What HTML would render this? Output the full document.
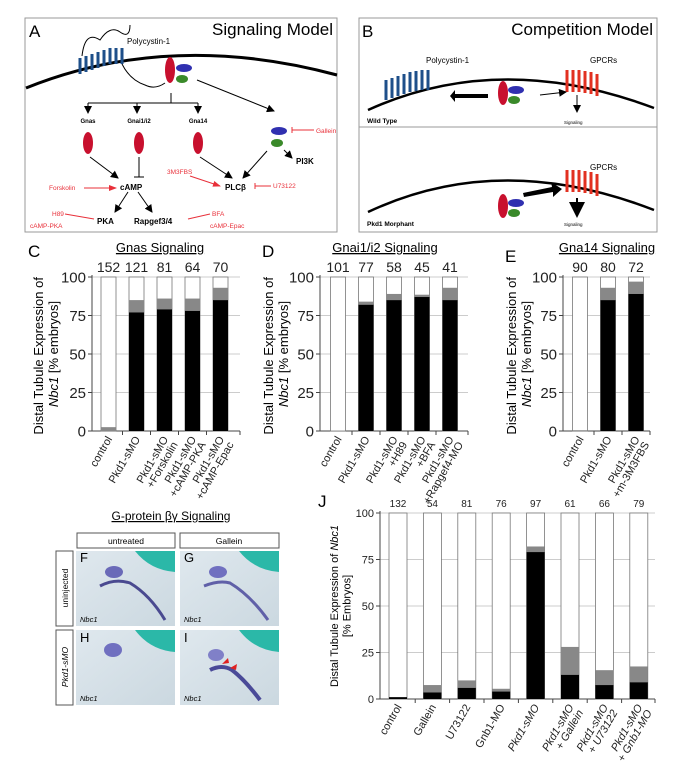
<!DOCTYPE html>
<html><head><meta charset="utf-8"><style>
body{margin:0;background:#fff;}
svg{display:block;font-family:"Liberation Sans",Arial,sans-serif;}
</style></head><body>
<svg id="fig" width="679" height="768" viewBox="0 0 679 768" xmlns="http://www.w3.org/2000/svg">
<defs>
<marker id="ah" markerWidth="8" markerHeight="8" refX="7" refY="4" orient="auto"><path d="M0,0 L8,4 L0,8 z" fill="#000"/></marker>
<marker id="ahr" markerWidth="8" markerHeight="8" refX="7" refY="4" orient="auto"><path d="M0,1 L8,4 L0,7 z" fill="#e8303a"/></marker>
<linearGradient id="emb" x1="0" y1="0" x2="1" y2="1"><stop offset="0" stop-color="#dfe8ee"/><stop offset="1" stop-color="#cbd8e0"/></linearGradient>
</defs>

<!-- Panel A -->
<g>
<rect x="25" y="18" width="312" height="214" fill="#fff" stroke="#999" stroke-width="1"/>
<text x="29" y="37" font-size="17">A</text>
<text x="333" y="35" font-size="17" text-anchor="end">Signaling Model</text>
<path d="M26,88 Q170,30 337,75" fill="none" stroke="#000" stroke-width="3"/>
<g fill="none" stroke="#1e4f8a" stroke-width="3">
<path d="M80,58 v16 M86,56 v16 M92,54 v16 M98,52 v16 M104,50 v16 M110,48 v16 M116,48 v16 M122,48 v16"/>
</g>
<path d="M82,56 Q85,30 100,40 Q110,25 120,32 T130,25" fill="none" stroke="#000" stroke-width="1"/>
<path d="M122,64 Q130,80 145,85 Q155,90 165,83" fill="none" stroke="#000" stroke-width="1"/>
<text x="127" y="44" font-size="8">Polycystin-1</text>
<ellipse cx="170" cy="70" rx="5" ry="13" fill="#c8102e"/>
<ellipse cx="184" cy="68" rx="8" ry="4" fill="#3030b0"/>
<ellipse cx="182" cy="79" rx="6" ry="4" fill="#3a8a2a"/>
<line x1="171" y1="93" x2="171" y2="103" stroke="#000"/>
<line x1="88" y1="103" x2="198" y2="103" stroke="#000"/>
<g stroke="#000" marker-end="url(#ah)"><line x1="88" y1="103" x2="88" y2="113"/><line x1="137" y1="103" x2="137" y2="113"/><line x1="198" y1="103" x2="198" y2="113"/><line x1="197" y1="80" x2="274" y2="111"/></g>
<g font-size="6" font-weight="bold" text-anchor="middle"><text x="88" y="123">Gnas</text><text x="139" y="123">Gnai1/i2</text><text x="198" y="123">Gna14</text></g>
<g fill="#c8102e"><ellipse cx="88" cy="143" rx="5" ry="11"/><ellipse cx="139" cy="143" rx="5" ry="11"/><ellipse cx="198" cy="143" rx="5" ry="11"/></g>
<ellipse cx="279" cy="131" rx="8" ry="4" fill="#3030b0"/><ellipse cx="277" cy="143" rx="6" ry="4" fill="#3a8a2a"/>
<g stroke="#000" marker-end="url(#ah)"><line x1="90" y1="157" x2="118" y2="178"/><line x1="200" y1="157" x2="232" y2="178"/><line x1="267" y1="151" x2="243" y2="178"/><line x1="284" y1="150" x2="292" y2="158"/><line x1="128" y1="192" x2="115" y2="212"/><line x1="138" y1="192" x2="152" y2="212"/></g>
<line x1="139" y1="157" x2="139" y2="177" stroke="#000"/><line x1="134" y1="177" x2="144" y2="177" stroke="#000"/>
<g font-size="8" font-weight="bold"><text x="120" y="190">cAMP</text><text x="225" y="190">PLCβ</text><text x="296" y="164">PI3K</text><text x="97" y="224">PKA</text><text x="134" y="224">Rapgef3/4</text></g>
<g font-size="6.5" fill="#e8303a"><text x="49" y="190">Forskolin</text><text x="167" y="174">3M3FBS</text><text x="273" y="188">U73122</text><text x="316" y="133">Gallein</text><text x="52" y="216">H89</text><text x="212" y="216">BFA</text><text x="30" y="228">cAMP-PKA</text><text x="210" y="228">cAMP-Epac</text></g>
<g stroke="#e8303a" fill="none"><line x1="84" y1="188" x2="116" y2="188" marker-end="url(#ahr)"/><line x1="190" y1="176" x2="220" y2="186" marker-end="url(#ahr)"/><line x1="255" y1="186" x2="271" y2="186"/><line x1="255" y1="183" x2="255" y2="189"/><line x1="292" y1="130" x2="314" y2="130"/><line x1="292" y1="127" x2="292" y2="133"/><line x1="65" y1="214" x2="94" y2="219"/><line x1="188" y1="219" x2="210" y2="214"/></g>
</g>

<!-- Panel B -->
<g>
<rect x="359" y="18" width="298" height="214" fill="#fff" stroke="#999"/>
<line x1="359" y1="127" x2="657" y2="127" stroke="#999"/>
<text x="362" y="37" font-size="17">B</text>
<text x="653" y="35" font-size="17" text-anchor="end">Competition Model</text>
<path d="M368,110 Q500,50 654,108" fill="none" stroke="#000" stroke-width="2.5"/>
<path d="M368,212 Q500,150 654,210" fill="none" stroke="#000" stroke-width="2.5"/>
<g stroke="#1e4f8a" stroke-width="3"><path d="M386,80 v20 M392,78 v20 M398,76 v20 M404,74 v20 M410,72 v20 M416,71 v20 M422,70 v20 M428,70 v20"/></g>
<g stroke="#e23020" stroke-width="3"><path d="M567,70 v22 M573,70 v22 M579,70 v22 M585,71 v22 M591,72 v22 M597,74 v22"/><path d="M567,170 v22 M573,170 v22 M579,170 v22 M585,171 v22 M591,172 v22 M597,174 v22"/></g>
<text x="426" y="63" font-size="8">Polycystin-1</text>
<text x="590" y="63" font-size="8">GPCRs</text>
<text x="590" y="170" font-size="8">GPCRs</text>
<text x="367" y="123" font-size="6.5" font-weight="bold">Wild Type</text>
<text x="367" y="226" font-size="6.5" font-weight="bold">Pkd1 Morphant</text>
<text x="564" y="124" font-size="4.5">Signaling</text>
<text x="564" y="226" font-size="4.5">Signaling</text>
<ellipse cx="503" cy="93" rx="5" ry="12" fill="#c8102e"/><ellipse cx="516" cy="90" rx="8" ry="4" fill="#3030b0"/><ellipse cx="514" cy="100" rx="6" ry="4" fill="#3a8a2a"/>
<ellipse cx="503" cy="206" rx="5" ry="12" fill="#c8102e"/><ellipse cx="516" cy="203" rx="8" ry="4" fill="#3030b0"/><ellipse cx="514" cy="213" rx="6" ry="4" fill="#3a8a2a"/>
<path d="M498,96 L465,96 L465,92 L460,98 L465,104 L465,100 L498,100 z" fill="#000" transform="translate(-10,-2)"/>
<line x1="540" y1="95" x2="566" y2="92" stroke="#000" marker-end="url(#ah)"/>
<line x1="577" y1="95" x2="577" y2="112" stroke="#000" marker-end="url(#ah)"/>
<path d="M523,193 L552,187 L551,182 L562,189 L553,197 L553,192 L524,197 z" fill="#000"/>
<line x1="577" y1="198" x2="577" y2="216" stroke="#000" stroke-width="2" marker-end="url(#ah)"/>
</g>

<!-- F-I panel -->
<g>
<text x="171" y="520" font-size="12" text-anchor="middle" text-decoration="underline">G-protein βγ Signaling</text>
<rect x="77" y="533" width="98" height="15" fill="#fff" stroke="#555"/><text x="126" y="544" font-size="8.5" text-anchor="middle">untreated</text>
<rect x="180" y="533" width="99" height="15" fill="#fff" stroke="#555"/><text x="229" y="544" font-size="8.5" text-anchor="middle">Gallein</text>
<rect x="56" y="551" width="17" height="75" fill="#fff" stroke="#555"/><text transform="translate(68,588) rotate(-90)" font-size="8.5" text-anchor="middle">uninjected</text>
<rect x="56" y="630" width="17" height="75" fill="#fff" stroke="#555"/><text transform="translate(68,667) rotate(-90)" font-size="8.5" font-style="italic" text-anchor="middle">Pkd1-sMO</text>
<g><rect x="76" y="551" width="99" height="75" fill="url(#emb)"/><path d="M135,551 Q150,570 175,572 L175,551z" fill="#2bb8a8"/><ellipse cx="114" cy="572" rx="9" ry="6" fill="#6a6ab8"/><path d="M100,586 Q115,578 130,583 Q150,595 165,620" fill="none" stroke="#4a4a90" stroke-width="3"/><text x="80" y="562" font-size="13">F</text><text x="80" y="622" font-size="7.5" font-style="italic">Nbc1</text></g>
<g><rect x="180" y="551" width="99" height="75" fill="url(#emb)"/><path d="M239,551 Q254,570 279,572 L279,551z" fill="#2bb8a8"/><ellipse cx="218" cy="572" rx="9" ry="6" fill="#7070c0"/><path d="M204,586 Q219,580 230,583 Q250,595 268,620" fill="none" stroke="#6060a8" stroke-width="3"/><text x="184" y="562" font-size="13">G</text><text x="184" y="622" font-size="7.5" font-style="italic">Nbc1</text></g>
<g><rect x="76" y="630" width="99" height="75" fill="url(#emb)"/><path d="M135,630 Q150,650 175,652 L175,630z" fill="#2bb8a8"/><ellipse cx="113" cy="650" rx="9" ry="7" fill="#7070c0"/><text x="80" y="642" font-size="13">H</text><text x="80" y="701" font-size="7.5" font-style="italic">Nbc1</text></g>
<g><rect x="180" y="630" width="99" height="75" fill="url(#emb)"/><path d="M239,630 Q254,650 279,652 L279,630z" fill="#2bb8a8"/><ellipse cx="216" cy="655" rx="8" ry="6" fill="#8080c8"/><path d="M210,670 Q222,664 232,670 Q245,680 260,700" fill="none" stroke="#4a4a98" stroke-width="4"/><path d="M222,664 l6,-6 l1,5z M230,668 l7,-4 l-1,6z" fill="#e02020"/><text x="184" y="642" font-size="13">I</text><text x="184" y="701" font-size="7.5" font-style="italic">Nbc1</text></g>
</g>

<g id="charts"></g>
</svg>
<script>
// Panel C
const cCats = ["control","Pkd1-sMO","Pkd1-sMO|+Forskolin","Pkd1-sMO|+cAMP-PKA","Pkd1-sMO|+cAMP-Epac"];
const cBlack = [0,77,79,78,85];
const cGray = [2.5,8,7,8,8];
const cN = ["152","121","81","64","70"];
// Panel D
const dCats = ["control","Pkd1-sMO","Pkd1-sMO|+H89","Pkd1-sMO|+BFA","Pkd1-sMO|+Rapgef4-MO"];
const dBlack = [0,82,85,87,85];
const dGray = [0,2,4,1.5,8];
const dN = ["101","77","58","45","41"];
// Panel E
const eCats = ["control","Pkd1-sMO","Pkd1-sMO|+m-3M3FBS"];
const eBlack = [0,85,89];
const eGray = [0.5,8,8];
const eN = ["90","80","72"];
// Panel J
const jCats = ["control","Gallein","U73122","Gnb1-MO","Pkd1-sMO","Pkd1-sMO|+ Gallein","Pkd1-sMO|+ U73122","Pkd1-sMO|+ Gnb1-MO"];
const jBlack = [1,3.5,6,4,79,13,7.5,9];
const jGray = [0,4,4,1.5,3,15,8,8.5];
const jN = ["132","54","81","76","97","61","66","79"];
const yTicks = [0,25,50,75,100];

const NS="http://www.w3.org/2000/svg";
const root=document.getElementById('charts');
function mk(tag,attrs,parent){const e=document.createElementNS(NS,tag);for(const k in attrs)e.setAttribute(k,attrs[k]);(parent||root).appendChild(e);return e;}

function chart(o,cats,black,gray,ns){
  const g=mk('g',{});
  
  
  const y=v=>o.y0-(o.y0-o.y100)*v/100;
  const cx=i=>o.x0+o.first+i*o.step;
  yTicks.forEach(t=>{
    if(t>0){mk('line',{x1:o.x0,x2:o.x1,y1:y(t),y2:y(t),stroke:'#ccc','stroke-width':1},g);}
    mk('line',{x1:o.x0-4,x2:o.x0,y1:y(t),y2:y(t),stroke:'#444'},g);
    const tl=mk('text',{x:o.x0-6,y:y(t)+o.fs*0.35,'font-size':o.fs,'text-anchor':'end',fill:'#222'},g);
    tl.textContent=t;
    
    
  });
  mk('line',{x1:o.x0,x2:o.x0,y1:o.y0,y2:o.y100-2,stroke:'#444'},g);
  mk('line',{x1:o.x0,x2:o.x1,y1:o.y0,y2:o.y0,stroke:'#444'},g);
  cats.forEach((c,i)=>{
    const x=cx(i)-o.bw/2;
    const w=mk('rect',{x:x,y:y(100),width:o.bw,height:y(0)-y(100),fill:'#fff',stroke:'#777','stroke-width':0.8},g);
    
    
    const gr=mk('rect',{x:x,y:y(black[i]+gray[i]),width:o.bw,height:y(black[i])-y(black[i]+gray[i]),fill:'#888'},g);
    
    
    const b=mk('rect',{x:x,y:y(black[i]),width:o.bw,height:y(0)-y(black[i]),fill:'#000'},g);
    
    
    const n=mk('text',{x:cx(i),y:y(100)-o.nGap,'font-size':o.nfs,'text-anchor':'middle',fill:'#222'},g);
    n.textContent=ns[i];
    
    
    if(i>0)mk('line',{x1:cx(i)-o.step/2,x2:cx(i)-o.step/2,y1:o.y0,y2:o.y0+4,stroke:'#444'},g);
    const lines=c.split('|');
    const t=mk('text',{transform:`translate(${cx(i)+o.lx},${o.y0+o.ly}) rotate(-60)`,'font-size':o.xfs,'text-anchor':'end',fill:'#222','font-style':(o.ital&&i>=o.ital)?'italic':'normal'},g);
    
    
    lines.forEach((l,k)=>{const s=mk('tspan',{x:0,dy:k?o.xfs:0},t);s.textContent=l;});
  });
  mk('line',{x1:o.x1,x2:o.x1,y1:o.y0,y2:o.y0+4,stroke:'#444'},g);
  if(o.title){
  const tt=mk('text',{x:o.tx,y:o.ty,'font-size':o.tfs,'text-anchor':'middle','text-decoration':'underline'},g);
  tt.textContent=o.title;
  
  
  }
  const lb=mk('text',{x:o.lbx,y:o.lby,'font-size':17},g);
  lb.textContent=o.letter;
  
  
  const ya=mk('text',{transform:`translate(${o.yax},${(o.y0+o.y100)/2}) rotate(-90)`,'font-size':o.yfs,'text-anchor':'middle'},g);
  
  
  if(o.jstyle){
    const s1=mk('tspan',{x:0,dy:0},ya);s1.textContent='Distal Tubule Expression of ';
    const s1b=mk('tspan',{'font-style':'italic'},ya);s1b.textContent='Nbc1';
    const s2=mk('tspan',{x:0,dy:o.yfs*1.15},ya);s2.textContent='[% Embryos]';
  } else {
    const s1=mk('tspan',{x:0,dy:0},ya);s1.textContent='Distal Tubule Expression of ';
    const s2=mk('tspan',{x:0,dy:o.yfs*1.15},ya);
    const s3=mk('tspan',{'font-style':'italic'},s2);s3.textContent='Nbc1';
    const s4=mk('tspan',{},s2);s4.textContent=' [% embryos]';
  }
}
const base={y0:431,y100:277,bw:15,step:28,fs:15,nfs:14,nGap:5,xfs:11,lx:4,ly:8,tfs:13,yfs:13,};
chart(Object.assign({},base,{name:'gnas-chart',x0:92,x1:240,first:16.5,tx:160,ty:252,title:'Gnas Signaling',letter:'C',lbx:28,lby:257,yax:43}),cCats,cBlack,cGray,cN);
chart(Object.assign({},base,{name:'gnai-chart',x0:320,x1:468,first:18,tx:385,ty:252,title:'Gnai1/i2 Signaling',letter:'D',lbx:262,lby:257,yax:273}),dCats,dBlack,dGray,dN);
chart(Object.assign({},base,{name:'gna14-chart',x0:563,x1:650,first:17,tx:607,ty:252,title:'Gna14 Signaling',letter:'E',lbx:505,lby:262,yax:516}),eCats,eBlack,eGray,eN);
chart({name:'gbg-chart',x0:380,x1:655,y0:699,y100:513,bw:18,first:18,step:34.4,fs:11,nfs:10,nGap:6,xfs:11,lx:4,ly:8,ital:4,tx:0,ty:0,tfs:0,title:'',letter:'J',lbx:318,lby:507,yax:338,yfs:11,jstyle:true},jCats,jBlack,jGray,jN);
</script>
</body></html>
